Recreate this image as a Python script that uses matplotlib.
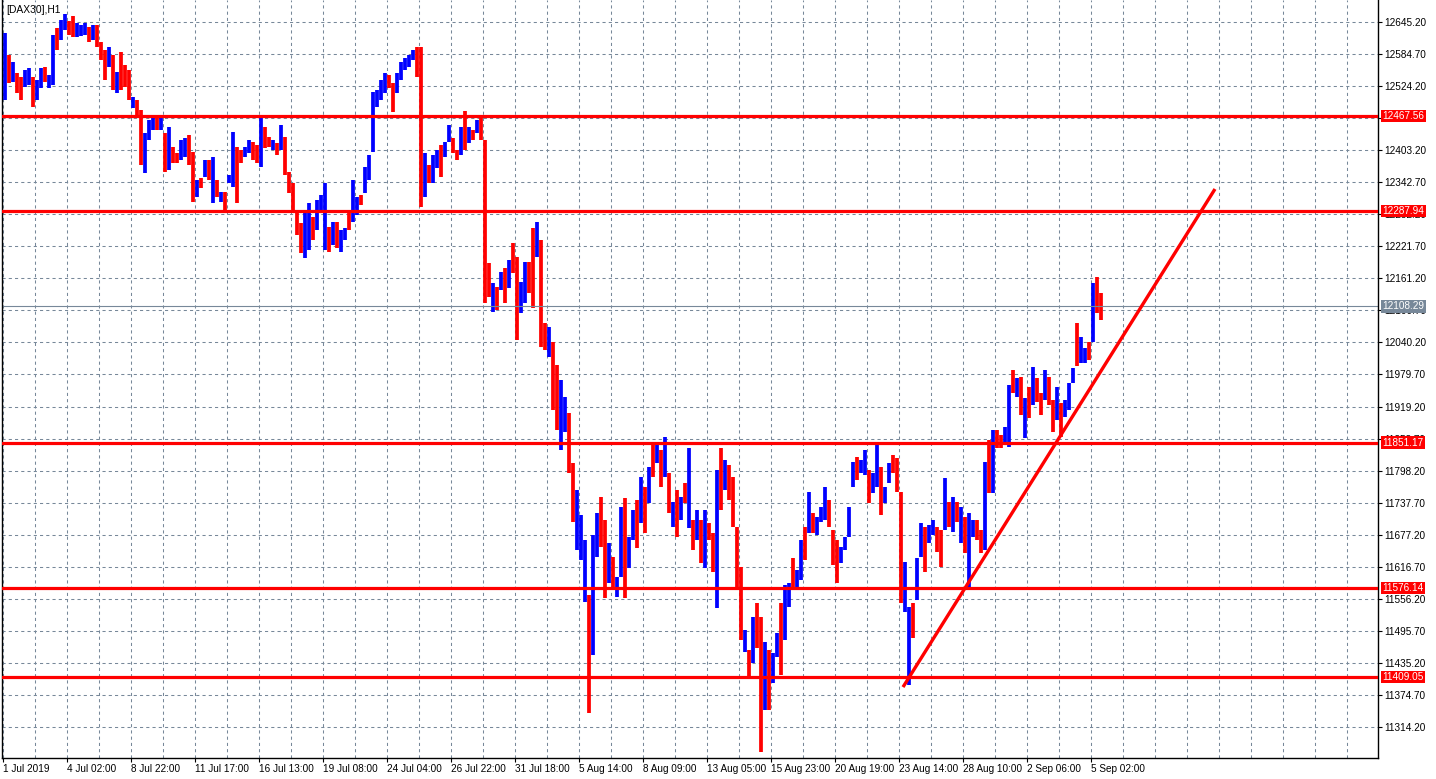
import numpy as np
import matplotlib
matplotlib.use("Agg")
import matplotlib.pyplot as plt
from matplotlib.transforms import blended_transform_factory

plt.rcParams['font.family'] = ['Liberation Sans', 'DejaVu Sans']

title = "[DAX30],H1"

# H1 chart read in blocks of 4 bars (1 Jul 2019 .. 5 Sep 2019)
hi = [12624, 12583, 12570, 12549, 12541, 12555, 12558, 12541, 12536, 12558,
      12560, 12545, 12621, 12634, 12649, 12660, 12647, 12656, 12643, 12640,
      12643, 12636, 12640, 12640, 12607, 12592, 12598, 12583, 12551, 12589,
      12564, 12555, 12504, 12498, 12479, 12436, 12460, 12466, 12470, 12464,
      12436, 12447, 12409, 12398, 12422, 12426, 12432, 12400, 12347, 12351,
      12385, 12385, 12390, 12347, 12324, 12324, 12356, 12438, 12409, 12404,
      12409, 12422, 12419, 12413, 12464, 12447, 12428, 12422, 12417, 12451,
      12428, 12362, 12341, 12290, 12266, 12290, 12303, 12277, 12309, 12319,
      12341, 12258, 12268, 12268, 12253, 12256, 12290, 12347, 12315, 12319,
      12371, 12394, 12513, 12517, 12536, 12549, 12545, 12530, 12549, 12570,
      12577, 12583, 12592, 12598, 12598, 12398, 12375, 12394, 12404, 12413,
      12419, 12451, 12426, 12404, 12447, 12477, 12447, 12441, 12460, 12464,
      12422, 12190, 12152, 12145, 12173, 12181, 12196, 12228, 12201, 12154,
      12192, 12192, 12256, 12268, 12234, 12077, 12069, 12041, 11998, 11969,
      11937, 11907, 11813, 11762, 11714, 11667, 11563, 11677, 11718, 11748,
      11705, 11662, 11635, 11597, 11730, 11747, 11673, 11724, 11743, 11786,
      11767, 11805, 11850, 11847, 11837, 11862, 11794, 11739, 11762, 11748,
      11775, 11841, 11705, 11724, 11705, 11724, 11699, 11681, 11799, 11841,
      11818, 11809, 11786, 11692, 11616, 11497, 11460, 11522, 11548, 11522,
      11475, 11460, 11454, 11492, 11548, 11582, 11586, 11633, 11611, 11667,
      11692, 11758, 11718, 11711, 11730, 11767, 11743, 11686, 11667, 11654,
      11673, 11730, 11815, 11824, 11818, 11837, 11799, 11794, 11847, 11805,
      11767, 11813, 11828, 11822, 11758, 11626, 11541, 11548, 11633, 11699,
      11692, 11696, 11705, 11692, 11686, 11784, 11739, 11748, 11739, 11730,
      11711, 11718, 11705, 11705, 11686, 11815, 11856, 11875, 11875, 11866,
      11881, 11960, 11988, 11973, 11975, 11935, 11956, 11994, 11973, 11945,
      11988, 11975, 11932, 11956, 11926, 11932, 11964, 11992, 12077, 12051,
      12030, 12041, 12152, 12164, 12134]

lo = [12498, 12530, 12532, 12511, 12498, 12522, 12526, 12485, 12498, 12521,
      12532, 12521, 12526, 12592, 12611, 12630, 12621, 12617, 12617, 12619,
      12621, 12607, 12611, 12598, 12573, 12536, 12560, 12517, 12511, 12517,
      12522, 12498, 12483, 12464, 12375, 12360, 12422, 12441, 12441, 12441,
      12362, 12366, 12379, 12379, 12385, 12390, 12375, 12305, 12315, 12332,
      12353, 12347, 12303, 12315, 12305, 12290, 12341, 12334, 12303, 12379,
      12390, 12398, 12385, 12379, 12371, 12407, 12409, 12404, 12394, 12404,
      12356, 12322, 12290, 12243, 12209, 12200, 12215, 12234, 12253, 12290,
      12215, 12211, 12224, 12219, 12211, 12234, 12253, 12268, 12281, 12300,
      12322, 12347, 12400, 12485, 12498, 12511, 12521, 12475, 12511, 12536,
      12555, 12560, 12573, 12541, 12296, 12315, 12341, 12341, 12370, 12353,
      12390, 12419, 12398, 12385, 12394, 12404, 12417, 12422, 12436, 12422,
      12115, 12126, 12098, 12101, 12139, 12115, 12143, 12171, 12045, 12096,
      12115, 12134, 12105, 12201, 12032, 12026, 12013, 11913, 11875, 11837,
      11871, 11794, 11701, 11648, 11629, 11550, 11341, 11450, 11635, 11654,
      11558, 11586, 11573, 11560, 11597, 11558, 11614, 11667, 11652, 11699,
      11681, 11737, 11786, 11813, 11767, 11786, 11718, 11692, 11673, 11705,
      11737, 11690, 11648, 11667, 11624, 11614, 11667, 11607, 11539, 11724,
      11762, 11743, 11692, 11573, 11478, 11456, 11407, 11435, 11463, 11267,
      11346, 11346, 11397, 11446, 11412, 11478, 11541, 11579, 11579, 11592,
      11630, 11681, 11681, 11677, 11701, 11705, 11692, 11620, 11586, 11624,
      11648, 11673, 11767, 11781, 11794, 11790, 11737, 11756, 11767, 11714,
      11737, 11775, 11794, 11758, 11548, 11531, 11393, 11482, 11554, 11635,
      11607, 11662, 11677, 11645, 11616, 11686, 11692, 11682, 11701, 11662,
      11643, 11579, 11673, 11667, 11643, 11648, 11756, 11756, 11841, 11841,
      11850, 11843, 11945, 11937, 11903, 11860, 11898, 11922, 11928, 11903,
      11932, 11922, 11871, 11894, 11862, 11899, 11913, 11964, 11995, 12001,
      12001, 12007, 12041, 12096, 12083]

# b = bullish (blue), r = bearish (red)
col = ("brbrrbbrbb" "rbbrbbrrbb" "brbrrrbrbr" "rrbrrbbbrb" "rbrrbbrrbr"
       "brbrbrbbrr" "bbrrbrrbrb" "rrrrrbbrbb" "brbrbbrbbr" "bbbbbbrrbb"
       "bbbrrbrbbr" "bbrrbrbrbr" "rrbrbrbrrb" "brrbrrbrrb" "brrbbbrbbr"
       "rbrbbrbbrb" "rbrbrbrbrb" "rbrbrbrrbr" "brrrrbrbrr" "brbbrbbrbb"
       "rbrbbbrrrb" "bbbrbbrbbr" "bbrrrbbrbb" "rbbrrbrbrb" "rbbrrbrbrr"
       "bbrbrbrbrr" "brrbrbbbrb" "brbrr")

levels = [12467.56, 12287.94, 11851.17, 11576.14, 11409.05]
last_price = 12108.29

# trend line (bar index, price)
trend_x = [900, 1212]
trend_y = [11389.6, 12329.9]

price_ticks = [12645.20, 12584.70, 12524.20, 12463.70, 12403.20, 12342.70,
               12282.20, 12221.70, 12161.20, 12100.70, 12040.20, 11979.70,
               11919.20, 11858.70, 11798.20, 11737.70, 11677.20, 11616.70,
               11556.20, 11495.70, 11435.20, 11374.70, 11314.20]

date_labels = ["1 Jul 2019", "4 Jul 02:00", "8 Jul 22:00", "11 Jul 17:00",
               "16 Jul 13:00", "19 Jul 08:00", "24 Jul 04:00", "26 Jul 22:00",
               "31 Jul 18:00", "5 Aug 14:00", "8 Aug 09:00", "13 Aug 05:00",
               "15 Aug 23:00", "20 Aug 19:00", "23 Aug 14:00", "28 Aug 10:00",
               "2 Sep 06:00", "5 Sep 02:00"]

assert len(hi) == len(lo) == len(col)

BLUE = '#0000ff'
RED = '#ff0000'
GRID = '#778899'
FS = 7.2

fig = plt.figure(figsize=(14.36, 7.79), dpi=100)
ax = fig.add_axes([2/1436, 21/779, 1376/1436, 758/779])
ax.set_xlim(-1, 1375)
ax.set_ylim(11255.7, 12686.7)

# grid
for v in price_ticks:
    ax.axhline(v, color=GRID, lw=0.75, ls=(0, (3, 3)), zorder=0.5)
for xv in np.arange(0, 1375, 32):
    ax.axvline(xv, color=GRID, lw=0.75, ls=(0, (3, 3)), zorder=0.5)

# bars
x = np.arange(len(hi)) * 4 + 1.5
colors = [BLUE if c == 'b' else RED for c in col]
ax.vlines(x, lo, hi, colors=colors, lw=2.7, zorder=2)

# support / resistance
ax.axhline(last_price, color=GRID, lw=0.8, zorder=2.5)
for l in levels:
    ax.axhline(l, color=RED, lw=2.3, zorder=3)
ax.plot(trend_x, trend_y, color=RED, lw=2.4, solid_capstyle='butt', zorder=3)

# price boxes on the right scale
trans = blended_transform_factory(ax.transAxes, ax.transData)
for l in levels:
    ax.text(1.0033, l, f"{l:.2f}", transform=trans, color='white', fontsize=FS,
            va='center', ha='left', clip_on=False, zorder=6,
            bbox=dict(boxstyle='square,pad=0.12', fc=RED, ec='none'))
ax.text(1.0033, last_price, f"{last_price:.2f}", transform=trans, color='white',
        fontsize=FS, va='center', ha='left', clip_on=False, zorder=6,
        bbox=dict(boxstyle='square,pad=0.12', fc=GRID, ec='none'))

# axes
ax.yaxis.tick_right()
ax.set_yticks(price_ticks)
ax.set_yticklabels([f"{v:.2f}" for v in price_ticks])
ax.tick_params(axis='y', direction='out', length=3, width=0.8, pad=1.5,
               labelsize=FS, colors='black')
ax.set_xticks(np.arange(len(date_labels)) * 64)
ax.set_xticklabels(date_labels, ha='left')
ax.tick_params(axis='x', direction='out', length=3, width=0.8, pad=1.5,
               labelsize=FS, colors='black')
ax.spines['top'].set_visible(False)
for s in ['left', 'right', 'bottom']:
    ax.spines[s].set_color('black')
    ax.spines[s].set_linewidth(1)

ax.text(4/1376, 1 - 10/758, title, transform=ax.transAxes, fontsize=7.4,
        va='center', ha='left', zorder=7)

fig.savefig('out.png', dpi=100)
